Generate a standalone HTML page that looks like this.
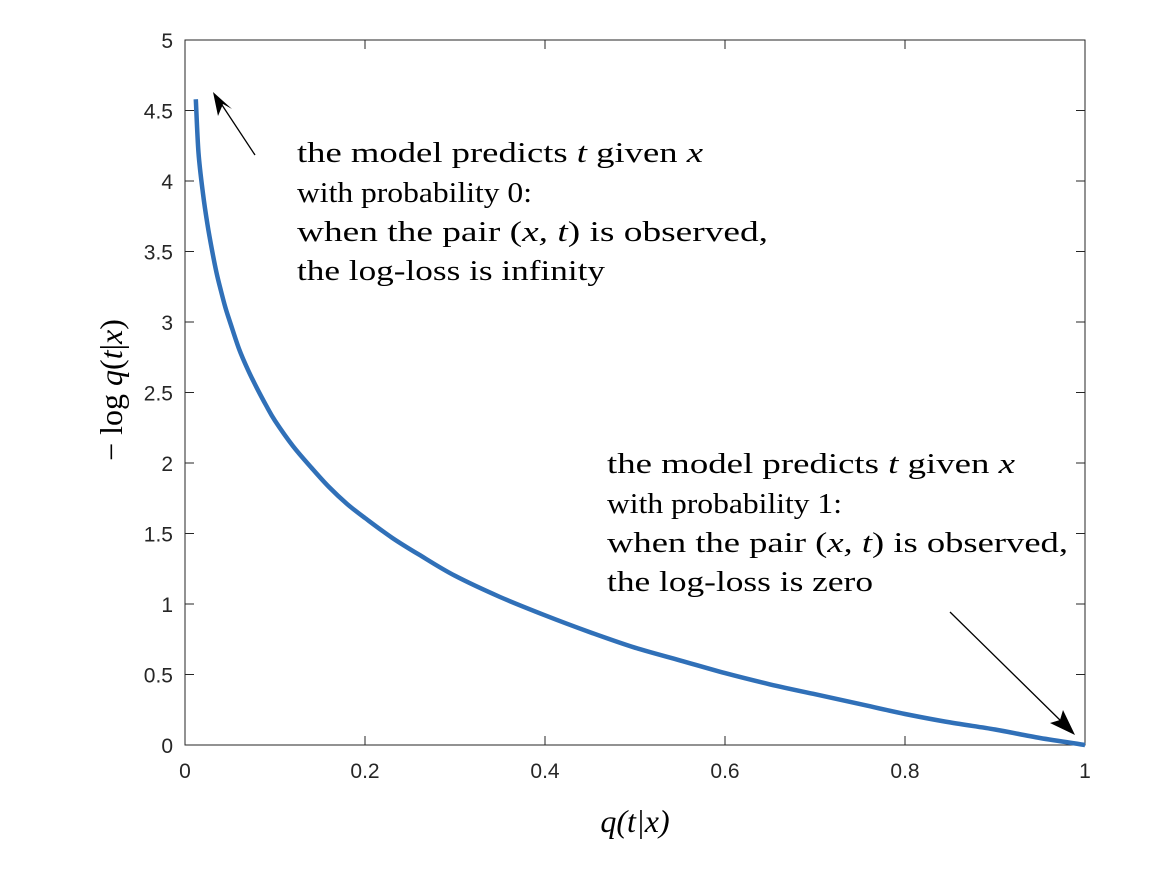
<!DOCTYPE html>
<html><head><meta charset="utf-8"><style>
html,body{margin:0;padding:0;background:#fff;}
svg text{font-family:"Liberation Sans",sans-serif;}
.ann{font-family:"Liberation Serif",serif;font-size:28px;fill:#000;}
.tick{font-size:21px;fill:#262626;}
</style></head><body>
<svg id="chart" width="1159" height="866" viewBox="0 0 1159 866" xmlns="http://www.w3.org/2000/svg">
<g id="axes"></g>
<g id="series"></g>
<g>
<text class="ann" x="297" y="162" textLength="406" lengthAdjust="spacingAndGlyphs">the model predicts <tspan font-style="italic">t</tspan> given <tspan font-style="italic">x</tspan></text>
<text class="ann" x="297" y="202" textLength="235" lengthAdjust="spacingAndGlyphs">with probability 0:</text>
<text class="ann" x="297" y="241" textLength="471" lengthAdjust="spacingAndGlyphs">when the pair (<tspan font-style="italic">x, t</tspan>) is observed,</text>
<text class="ann" x="297" y="280" textLength="308" lengthAdjust="spacingAndGlyphs">the log-loss is infinity</text>
</g>
<g>
<text class="ann" x="607" y="473" textLength="408" lengthAdjust="spacingAndGlyphs">the model predicts <tspan font-style="italic">t</tspan> given <tspan font-style="italic">x</tspan></text>
<text class="ann" x="607" y="513" textLength="235" lengthAdjust="spacingAndGlyphs">with probability 1:</text>
<text class="ann" x="607" y="552" textLength="461" lengthAdjust="spacingAndGlyphs">when the pair (<tspan font-style="italic">x, t</tspan>) is observed,</text>
<text class="ann" x="607" y="591" textLength="266" lengthAdjust="spacingAndGlyphs">the log-loss is zero</text>
</g>
<g>
<line x1="255" y1="155" x2="222" y2="105" stroke="#000" stroke-width="1.3"/>
<polygon points="213,92 232,109 223,104 218,116" fill="#000"/>
</g>
<g>
<line x1="950" y1="612" x2="1064" y2="724" stroke="#000" stroke-width="1.3"/>
<polygon points="1075,735 1050,723 1060,720 1063,710" fill="#000"/>
</g>
<text x="635" y="832" text-anchor="middle" style="font-family:'Liberation Serif',serif;font-size:32px;font-style:italic">q(t|x)</text>
<text transform="translate(122,390) rotate(-90)" text-anchor="middle" style="font-family:'Liberation Serif',serif;font-size:32px">− log <tspan font-style="italic">q</tspan>(<tspan font-style="italic">t</tspan>|<tspan font-style="italic">x</tspan>)</text>
</svg>
<script>
const qValues=[0.012,0.015,0.02,0.025,0.03,0.035,0.04,0.045,0.05,0.06,0.07,0.08,0.09,0.1,0.12,0.14,0.16,0.18,0.2,0.23,0.26,0.3,0.35,0.4,0.45,0.5,0.55,0.6,0.65,0.7,0.75,0.8,0.85,0.9,0.95,1.0];
const lossValues=[4.58,4.2,3.91,3.69,3.51,3.35,3.22,3.1,3.0,2.81,2.66,2.53,2.41,2.3,2.12,1.97,1.83,1.71,1.61,1.47,1.35,1.2,1.05,0.92,0.8,0.69,0.6,0.51,0.43,0.36,0.29,0.22,0.16,0.11,0.05,0];
const xTicks=[0,0.2,0.4,0.6,0.8,1];
const xTickLabels=["0","0.2","0.4","0.6","0.8","1"];
const yTicks=[0,0.5,1,1.5,2,2.5,3,3.5,4,4.5,5];
const yTickLabels=["0","0.5","1","1.5","2","2.5","3","3.5","4","4.5","5"];
const L=185,R=1085,T=40,B=745;
const xs=v=>L+(R-L)*v;
const ys=v=>B-(B-T)*v/5;
const NS="http://www.w3.org/2000/svg";
const axes=document.getElementById('axes');
function mk(tag,attrs,parent){const e=document.createElementNS(NS,tag);for(const k in attrs)e.setAttribute(k,attrs[k]);parent.appendChild(e);return e;}
const box=mk('rect',{x:L,y:T,width:R-L,height:B-T,fill:'none',stroke:'#262626','stroke-width':1},axes);


xTicks.forEach((v,i)=>{
  const x=xs(v);
  const t1=mk('line',{x1:x,y1:B,x2:x,y2:B-9,stroke:'#262626'},axes);
  
  
  const t2=mk('line',{x1:x,y1:T,x2:x,y2:T+9,stroke:'#262626'},axes);
  
  
  const tx=mk('text',{x:x,y:B+33,'text-anchor':'middle',class:'tick'},axes);
  tx.textContent=xTickLabels[i];
  
  
});
yTicks.forEach((v,i)=>{
  const y=ys(v);
  const t1=mk('line',{x1:L,y1:y,x2:L+9,y2:y,stroke:'#262626'},axes);
  
  
  const t2=mk('line',{x1:R,y1:y,x2:R-9,y2:y,stroke:'#262626'},axes);
  
  
  const tx=mk('text',{x:L-12,y:y+8,'text-anchor':'end',class:'tick'},axes);
  tx.textContent=yTickLabels[i];
  
  
});
const P=qValues.map((q,i)=>[xs(q),ys(lossValues[i])]);
let d='M'+P[0][0].toFixed(1)+','+P[0][1].toFixed(1);
for(let i=0;i<P.length-1;i++){
  const p0=P[i-1]||P[i],p1=P[i],p2=P[i+1],p3=P[i+2]||p2;
  const c1=[p1[0]+(p2[0]-p0[0])/6,p1[1]+(p2[1]-p0[1])/6];
  const c2=[p2[0]-(p3[0]-p1[0])/6,p2[1]-(p3[1]-p1[1])/6];
  d+=' C'+c1[0].toFixed(1)+','+c1[1].toFixed(1)+' '+c2[0].toFixed(1)+','+c2[1].toFixed(1)+' '+p2[0].toFixed(1)+','+p2[1].toFixed(1);
}
const line=mk('path',{d:d,fill:'none',stroke:'#3070b8','stroke-width':4.5,'stroke-linejoin':'round'},document.getElementById('series'));


</script>
</body></html>
